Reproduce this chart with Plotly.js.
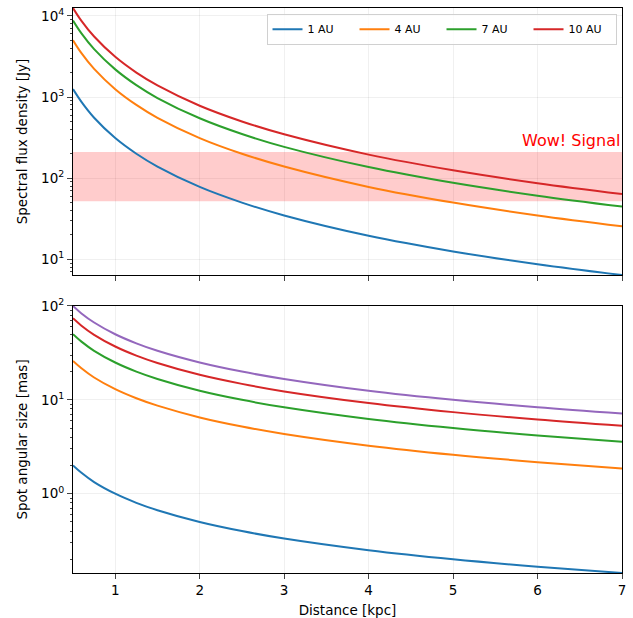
<!DOCTYPE html>
<html>
<head>
<meta charset="utf-8">
<script src="https://cdn.plot.ly/plotly-3.0.1.min.js"></script>
<style>html,body{margin:0;padding:0;background:#fff;}#chart{width:633px;height:618px;}</style>
</head>
<body>
<div id="chart"></div>
<script>
// Distances [kpc]
const distance = [0.5, 0.6, 0.75, 1, 1.25, 1.5, 2, 2.5, 3, 4, 5, 6, 7];

// Top panel: spectral flux density [Jy]
const seriesNames = ["1 AU", "4 AU", "7 AU", "10 AU"];
const flux1AU  = [1250, 870, 555, 312, 200, 139, 78, 50, 34.7, 19.5, 12.5, 8.7, 6.4];
const flux4AU  = [5000, 3470, 2220, 1250, 800, 555, 312, 200, 139, 78, 50, 34.7, 25.5];
const flux7AU  = [8750, 6080, 3890, 2190, 1400, 972, 547, 350, 243, 137, 87.5, 60.8, 44.6];
const flux10AU = [12500, 8680, 5560, 3125, 2000, 1390, 781, 500, 347, 195, 125, 86.8, 63.8];

// Bottom panel: spot angular size [mas]
const size1 = [2, 1.67, 1.33, 1, 0.8, 0.667, 0.5, 0.4, 0.333, 0.25, 0.2, 0.167, 0.143];
const size2 = [26, 21.7, 17.3, 13, 10.4, 8.67, 6.5, 5.2, 4.33, 3.25, 2.6, 2.17, 1.86];
const size3 = [50, 41.7, 33.3, 25, 20, 16.7, 12.5, 10, 8.33, 6.25, 5, 4.17, 3.57];
const size4 = [74, 61.7, 49.3, 37, 29.6, 24.7, 18.5, 14.8, 12.3, 9.25, 7.4, 6.17, 5.29];
const size5 = [100, 83.3, 66.7, 50, 40, 33.3, 25, 20, 16.7, 12.5, 10, 8.33, 7.14];

// Wow! Signal band [Jy] spanning the distance range
const wowBand = [52, 210];
const wowSpan = [0.5, 7];
const wowLabel = "Wow! Signal";

const xTicks = [1, 2, 3, 4, 5, 6, 7];
const topYTicks = [10, 100, 1000, 10000];
const topYTickText = ["10<sup>1</sup>", "10<sup>2</sup>", "10<sup>3</sup>", "10<sup>4</sup>"];
const botYTicks = [1, 10, 100];
const botYTickText = ["10<sup>0</sup>", "10<sup>1</sup>", "10<sup>2</sup>"];

const colors = ["#1f77b4", "#ff7f0e", "#2ca02c", "#d62728", "#9467bd"];

function minorVals(lo, hi) {
  const v = [];
  for (let e = lo; e <= hi; e++) for (let m = 2; m <= 9; m++) v.push(m * Math.pow(10, e));
  return v;
}

const fluxSeries = [flux1AU, flux4AU, flux7AU, flux10AU];
const sizeSeries = [size1, size2, size3, size4, size5];

const traces = [{
  x: [wowSpan[0], wowSpan[1], wowSpan[1], wowSpan[0], wowSpan[0]],
  y: [wowBand[0], wowBand[0], wowBand[1], wowBand[1], wowBand[0]],
  type: "scatter", mode: "lines", fill: "toself", fillcolor: "rgba(255,0,0,0.2)",
  line: {width: 0, color: "rgba(0,0,0,0)"}, showlegend: false, hoverinfo: "skip",
  xaxis: "x", yaxis: "y"
}];
fluxSeries.forEach((ys, i) => traces.push({
  x: distance, y: ys, type: "scatter", mode: "lines", name: seriesNames[i],
  line: {color: colors[i], width: 2, shape: "spline"}, xaxis: "x", yaxis: "y"
}));
sizeSeries.forEach((ys, i) => traces.push({
  x: distance, y: ys, type: "scatter", mode: "lines", showlegend: false,
  line: {color: colors[i], width: 2, shape: "spline"}, xaxis: "x2", yaxis: "y2"
}));

const font = {family: "DejaVu Sans, sans-serif", size: 13.5, color: "#000"};
const commonX = {
  range: [0.5, 7], tickvals: xTicks, ticks: "outside", ticklen: 5, tickwidth: 1,
  showline: true, linecolor: "#000", linewidth: 1, mirror: true,
  showgrid: true, gridcolor: "rgba(0,0,0,0.06)", gridwidth: 1, zeroline: false
};
const commonY = {
  type: "log", ticks: "outside", ticklen: 5, tickwidth: 1,
  showline: true, linecolor: "#000", linewidth: 1, mirror: true,
  showgrid: true, gridcolor: "rgba(0,0,0,0.06)", gridwidth: 1, zeroline: false,
  tickmode: "array"
};

const layout = {
  width: 633, height: 618,
  margin: {l: 73, r: 11, t: 8, b: 45},
  paper_bgcolor: "#fff", plot_bgcolor: "#fff",
  font: font,
  showlegend: true,
  legend: {
    orientation: "h", x: 0.99, xanchor: "right", y: 0.99, yanchor: "top",
    bgcolor: "rgba(255,255,255,0.8)", bordercolor: "#d0d0d0", borderwidth: 1,
    font: {family: "DejaVu Sans, sans-serif", size: 11, color: "#000"},
    entrywidth: 42, entrywidthmode: "pixels", itemwidth: 30
  },
  xaxis: Object.assign({}, commonX, {domain: [0, 1], anchor: "y", showticklabels: false}),
  yaxis: Object.assign({}, commonY, {
    domain: [0.5274, 1], anchor: "x",
    range: [Math.log10(6.4), Math.log10(12500)],
    tickvals: topYTicks, ticktext: topYTickText,
    minor: {tickmode: "array", tickvals: minorVals(0, 4), ticks: "outside", ticklen: 2.5, tickwidth: 1, showgrid: false},
    title: {text: "Spectral flux density [Jy]", font: font, standoff: 10}
  }),
  xaxis2: Object.assign({}, commonX, {domain: [0, 1], anchor: "y2",
    title: {text: "Distance [kpc]", font: font, standoff: 8}}),
  yaxis2: Object.assign({}, commonY, {
    domain: [0, 0.4726], anchor: "x2",
    range: [Math.log10(0.143), 2],
    tickvals: botYTicks, ticktext: botYTickText,
    minor: {tickmode: "array", tickvals: minorVals(-1, 1), ticks: "outside", ticklen: 2.5, tickwidth: 1, showgrid: false},
    title: {text: "Spot angular size [mas]", font: font, standoff: 10}
  }),
  annotations: [{
    xref: "x", yref: "y", x: 7, y: Math.log10(wowBand[1]), xanchor: "right", yanchor: "bottom",
    text: wowLabel, showarrow: false,
    font: {family: "DejaVu Sans, sans-serif", size: 16, color: "#ff0000"}
  }]
};

Plotly.newPlot("chart", traces, layout, {displayModeBar: false, staticPlot: true});
</script>
</body>
</html>
